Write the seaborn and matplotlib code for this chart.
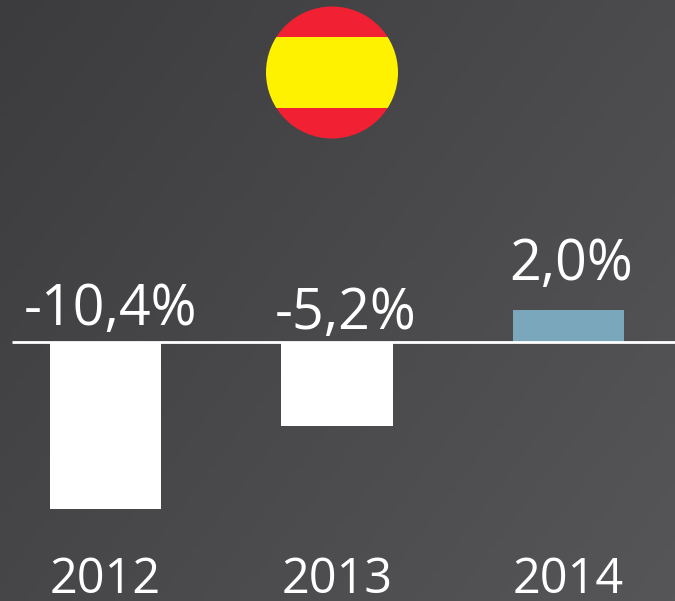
import numpy as np
import pandas as pd
import matplotlib
matplotlib.use("Agg")
import matplotlib.pyplot as plt
from matplotlib.patches import Circle, Rectangle
import seaborn as sns

years = ["2012", "2013", "2014"]
values = [-10.4, -5.2, 2.0]
labels = ["-10,4%", "-5,2%", "2,0%"]
bar_colors = ["#ffffff", "#ffffff", "#7ba7bc"]
label_offsets_px = [(5, 17.5), (9, 13.5), (3, 30)]

W, H = 675, 601
sns.set_theme(style="white")
plt.rcParams['font.family'] = ['Open Sans', 'DejaVu Sans']
fig = plt.figure(figsize=(W / 100, H / 100), dpi=100)

bg = fig.add_axes([0, 0, 1, 1], zorder=0)
bg.axis("off")
xx, yy = np.meshgrid(np.linspace(0, 1, 200), np.linspace(0, 1, 200))
grad = 0.6 * xx + 0.4 * yy
bg.imshow(grad, extent=[0, W, H, 0], aspect="auto",
          cmap=matplotlib.colors.LinearSegmentedColormap.from_list("g", ["#3c3c3e", "#565658"]), vmin=0, vmax=1)
bg.set_xlim(0, W); bg.set_ylim(H, 0)

# flag
clip = Circle((332, 72.5), 66, transform=bg.transData)
for y0, h, c in [(5, 32, "#f12032"), (37, 71, "#fff200"), (108, 32, "#f12032")]:
    r = Rectangle((262, y0), 140, h, color=c, lw=0)
    bg.add_patch(r)
    r.set_clip_path(clip)

# axes: y=342 px at value 0
ppu = 16.1
ax = fig.add_axes([0, 0, 1, 1], zorder=1)
ax.patch.set_alpha(0)
df = pd.DataFrame({"year": years, "value": values})
sns.barplot(data=df, x="year", y="value", hue="year", palette=bar_colors, legend=False,
            width=0.48, saturation=1, ax=ax, linewidth=0)
ax.set_xlim(-105.5 / 231.5, (W - 105.5) / 231.5)
ax.set_ylim(-(H - 342) / ppu, 342 / ppu)
ax.axis("off")
ax.plot([12 / W, 1], [1 - 342 / H] * 2, transform=ax.transAxes, color="white", lw=2, solid_capstyle="butt")

for i, (v, lab, yr, (dx, dy)) in enumerate(zip(values, labels, years, label_offsets_px)):
    ax.annotate(lab, (i, max(v, 0)), xytext=(dx * 0.72, dy * 0.72), textcoords="offset points",
                ha="center", va="baseline", color="white", fontsize=40)
    ax.text(i, -(593 - 342) / ppu, yr, ha="center", va="baseline", color="white", fontsize=35)

fig.savefig("out.png", dpi=100)
